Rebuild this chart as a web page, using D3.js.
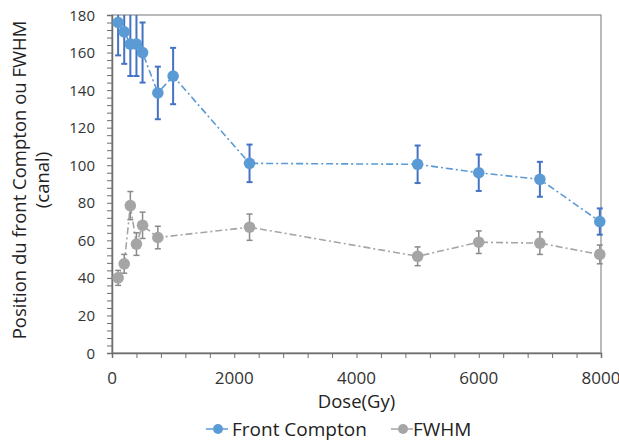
<!DOCTYPE html>
<html><head><meta charset="utf-8">
<script src="https://cdn.jsdelivr.net/npm/d3@7"></script>
<style>body{margin:0;background:#fff}svg{display:block}text{font-family:"Open Sans",sans-serif}</style>
</head><body><svg id="c" width="619" height="443"></svg>
<script>
const dosesFC = [100,200,300,400,500,750,1000,2250,5000,6000,7000,7980];
const frontCompton = [176,171,164.5,164.5,160,138.5,147.5,101,100.5,96,92.5,70];
const frontComptonErr = [17.5,17,17,17,16,14,15,10,10,9.7,9.3,7];
const dosesFW = [100,200,300,400,500,750,2250,5000,6000,7000,7980];
const fwhm = [40,47.5,78.5,58,68,61.5,67,51.5,59,58.5,52.5];
const fwhmErr = [4,5,7.5,6,7,6,7,5,6,6,5];
const xTicks = [0,2000,4000,6000,8000];
const yTicks = [0,20,40,60,80,100,120,140,160,180];
const seriesNames = ["Front Compton","FWHM"];

const svg = d3.select("#c");
const m = {l:112, r:18, t:15, b:90};
const W = 619, H = 443;
const x = d3.scaleLinear().domain([0,8000]).range([m.l, W-m.r]);
const y = d3.scaleLinear().domain([0,180]).range([H-m.b, m.t]);

const series = [
  {name:seriesNames[0], xs:dosesFC, ys:frontCompton, err:frontComptonErr, fill:"#5b9bd5", line:"#5b9bd5", bar:"#4472c4", bw:2},
  {name:seriesNames[1], xs:dosesFW, ys:fwhm, err:fwhmErr, fill:"#a5a5a5", line:"#a5a5a5", bar:"#8a8a8a", bw:1.5}
];

// plot border
svg.append("rect").attr("x",m.l).attr("y",m.t).attr("width",W-m.r-m.l).attr("height",H-m.b-m.t)
  .attr("fill","none").attr("stroke","#8c8c8c").attr("stroke-width",1.2);

// minor ticks
const gx = svg.append("g").attr("transform",`translate(0,${H-m.b})`);
gx.call(d3.axisBottom(x).tickValues(d3.range(0,8001,400)).tickSize(5).tickFormat(""));
const gy = svg.append("g").attr("transform",`translate(${m.l},0)`);
gy.call(d3.axisLeft(y).tickValues(d3.range(0,181,4)).tickSize(5).tickFormat(""));
[gx,gy].forEach(g=>{g.selectAll("path").attr("stroke","#6e6e6e").attr("stroke-width",1.5);g.selectAll("line").attr("stroke","#6e6e6e");});

// tick labels
svg.append("g").selectAll("text").data(xTicks).join("text")
  .attr("x",d=>x(d)).attr("y",383.5).attr("text-anchor","middle")
  .attr("font-size",17).attr("fill","#333").text(d=>d);
svg.append("g").selectAll("text").data(yTicks).join("text")
  .attr("x",95).attr("y",d=>y(d)+5.5).attr("text-anchor","end")
  .attr("font-size",15).attr("fill","#333").text(d=>d);

// axis titles
svg.append("text").attr("x",(m.l+W-m.r)/2).attr("y",408).attr("text-anchor","middle")
  .attr("font-size",18.5).attr("fill","#222").text("Dose(Gy)");
const yt = svg.append("text").attr("transform","translate(0,180) rotate(-90)").attr("text-anchor","middle")
  .attr("font-size",18.5).attr("fill","#222");
yt.append("tspan").attr("x",0).attr("y",26).text("Position du front Compton ou FWHM");
yt.append("tspan").attr("x",0).attr("y",49).text("(canal)");

// clip
svg.append("clipPath").attr("id","clip").append("rect")
  .attr("x",m.l-10).attr("y",m.t).attr("width",W-m.l+10).attr("height",H-m.b-m.t+10);
const plot = svg.append("g").attr("clip-path","url(#clip)");

const lineGen = d3.line().x(d=>x(d[0])).y(d=>y(d[1]));
series.forEach(s=>{
  const pts = s.xs.map((d,i)=>[d,s.ys[i],s.err[i]]);
  plot.append("path").datum(pts).attr("d",lineGen).attr("fill","none")
    .attr("stroke",s.line).attr("stroke-width",1.6).attr("stroke-dasharray","7,3,2,3");
  const eb = plot.append("g").attr("stroke",s.bar).attr("stroke-width",s.bw);
  pts.forEach(p=>{
    const cx = x(p[0]);
    eb.append("line").attr("x1",cx).attr("x2",cx).attr("y1",y(p[1]+p[2])).attr("y2",y(p[1]-p[2]));
    eb.append("line").attr("x1",cx-3).attr("x2",cx+3).attr("y1",y(p[1]+p[2])).attr("y2",y(p[1]+p[2]));
    eb.append("line").attr("x1",cx-3).attr("x2",cx+3).attr("y1",y(p[1]-p[2])).attr("y2",y(p[1]-p[2]));
  });
  plot.append("g").selectAll("circle").data(pts).join("circle")
    .attr("cx",d=>x(d[0])).attr("cy",d=>y(d[1])).attr("r",5.8).attr("fill",s.fill);
});

// legend
const leg = [{s:series[0], x0:206, tx:232},{s:series[1], x0:391, tx:413}];
leg.forEach(l=>{
  const g = svg.append("g");
  g.append("line").attr("x1",l.x0).attr("x2",l.x0+24).attr("y1",429).attr("y2",429)
    .attr("stroke",l.s.line).attr("stroke-width",1.6).attr("stroke-dasharray","7,3,2,3");
  g.append("circle").attr("cx",l.x0+12).attr("cy",429).attr("r",5).attr("fill",l.s.fill);
  g.append("text").attr("x",l.tx).attr("y",435.5).attr("font-size",19).attr("fill","#222").text(l.s.name);
});
</script></body></html>
